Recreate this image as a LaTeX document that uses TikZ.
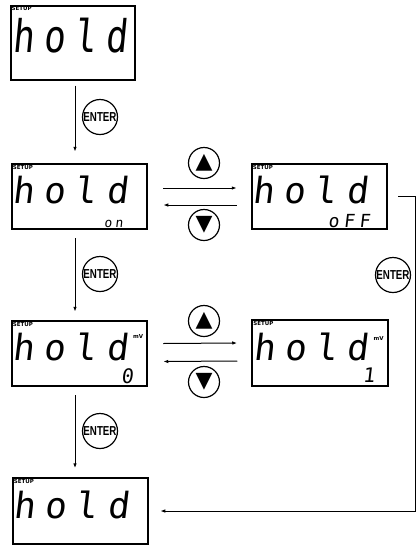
\documentclass[tikz,border=0pt]{standalone}
\usepackage{fontspec}
\usepackage{graphicx}
\usetikzlibrary{arrows.meta}
\newfontfamily\lcdfont[FakeSlant=0.12,LetterSpace=26]{DejaVu Sans Mono}
\newfontfamily\keyfont[FakeStretch=0.75]{Liberation Sans}
\newfontfamily\symfont{DejaVu Sans}
\newcommand{\lcdsize}[1]{\lcdfont\fontsize{#1}{#1}\selectfont}
\begin{document}
\begin{tikzpicture}[x=1pt,y=-1pt]
	\tikzstyle{lcd}=[draw,rectangle,line width=2pt,minimum width=135.5pt,minimum height=65.5pt,inner sep=0pt]
	\tikzstyle{word}=[anchor=base west,inner sep=0pt,font=\lcdsize{36}]
	\tikzstyle{value}=[anchor=base east,inner sep=0pt]
	\tikzstyle{tag}=[inner sep=0pt,font=\symfont\bfseries\fontsize{5.5}{5.5}\selectfont]
	\tikzset{
		flow/.style={-{Latex[length=5pt,width=3.5pt]},line width=1pt},
		enterkey/.style={draw,circle,line width=1.2pt,minimum size=35pt,inner sep=0pt,font=\keyfont\bfseries\fontsize{13}{13}\selectfont},
		arrowkey/.style={draw,circle,line width=1.2pt,minimum size=31pt,inner sep=0pt,font=\symfont\fontsize{22}{22}\selectfont}
	}
	\useasboundingbox (0,0) rectangle (420,547);
	\node[lcd,minimum width=124pt,minimum height=74pt] (holdA) at (72.5,42.5) {};
	\node[lcd] (holdB) at (79.5,196.5) {};
	\node[lcd] (holdC) at (319.5,196.5) {};
	\node[lcd] (holdD) at (79.5,353.5) {};
	\node[lcd] (holdE) at (320,353) {};
	\node[lcd] (holdF) at (80.5,511) {};
	\foreach \b in {holdA,holdB,holdC,holdD,holdE,holdF}
		\node[tag,anchor=north west] (\b-setup) at ([xshift=2pt,yshift=-2pt]\b.north west) {SETUP};
	\node[word] (holdA-text) at ([xshift=3pt,yshift=-48pt]holdA.north west) {\scalebox{1}[1.25]{hold}};
	\foreach \b in {holdB,holdC,holdD,holdE,holdF}
		\node[word] (\b-text) at ([xshift=2pt,yshift=-41pt]\b.north west) {hold};
	\node[value,font=\lcdsize{13}] (holdB-value) at ([xshift=-25pt,yshift=3pt]holdB.south east) {on};
	\node[value,font=\lcdsize{18}] (holdC-value) at ([xshift=-18pt,yshift=3pt]holdC.south east) {oFF};
	\node[value,font=\lcdsize{20}] (holdD-value) at ([xshift=-15pt,yshift=4pt]holdD.south east) {0};
	\node[value,font=\lcdsize{20}] (holdE-value) at ([xshift=-14pt,yshift=4pt]holdE.south east) {1};
	\node[tag,anchor=north east] (holdD-unit) at ([xshift=-5pt,yshift=-15pt]holdD.north east) {mV};
	\node[tag,anchor=north east] (holdE-unit) at ([xshift=-5pt,yshift=-17pt]holdE.north east) {mV};
	\node[enterkey] (enterA) at (100,117) {ENTER};
	\node[enterkey] (enterB) at (100,274) {ENTER};
	\node[enterkey] (enterC) at (100,431) {ENTER};
	\node[enterkey] (enterD) at (393,275) {ENTER};
	\node[arrowkey] (upA) at (204,163) {▲};
	\node[arrowkey] (downA) at (204,225) {▼};
	\node[arrowkey] (upB) at (204,321) {▲};
	\node[arrowkey] (downB) at (204,382) {▼};
	\coordinate (spine) at (75,0);
	\coordinate (rail) at (415,0);
	\draw[flow,shorten <=5pt,shorten >=11pt] (holdA.south -| spine) -- (holdB.north -| spine);
	\draw[flow,shorten <=8pt,shorten >=8pt] (holdB.south -| spine) -- (holdD.north -| spine);
	\draw[flow,shorten <=8pt,shorten >=9pt] (holdD.south -| spine) -- (holdF.north -| spine);
	\draw[flow] ([xshift=15pt,yshift=8.5pt]holdB.east) -- ([xshift=-14pt,yshift=8.5pt]holdC.west);
	\draw[flow] ([xshift=-14pt,yshift=-8.5pt]holdC.west) -- ([xshift=15pt,yshift=-8.5pt]holdB.east);
	\draw[flow] ([xshift=15pt,yshift=10pt]holdD.east) -- ([xshift=-14pt,yshift=10pt]holdE.west);
	\draw[flow] ([xshift=-14pt,yshift=-8pt]holdE.west) -- ([xshift=15pt,yshift=-8pt]holdD.east);
	\draw[flow,shorten >=11pt] ([xshift=10pt]holdC.east) -- (holdC.east -| rail) -- (holdF.east -| rail) -- (holdF.east);
\end{tikzpicture}
\end{document}
